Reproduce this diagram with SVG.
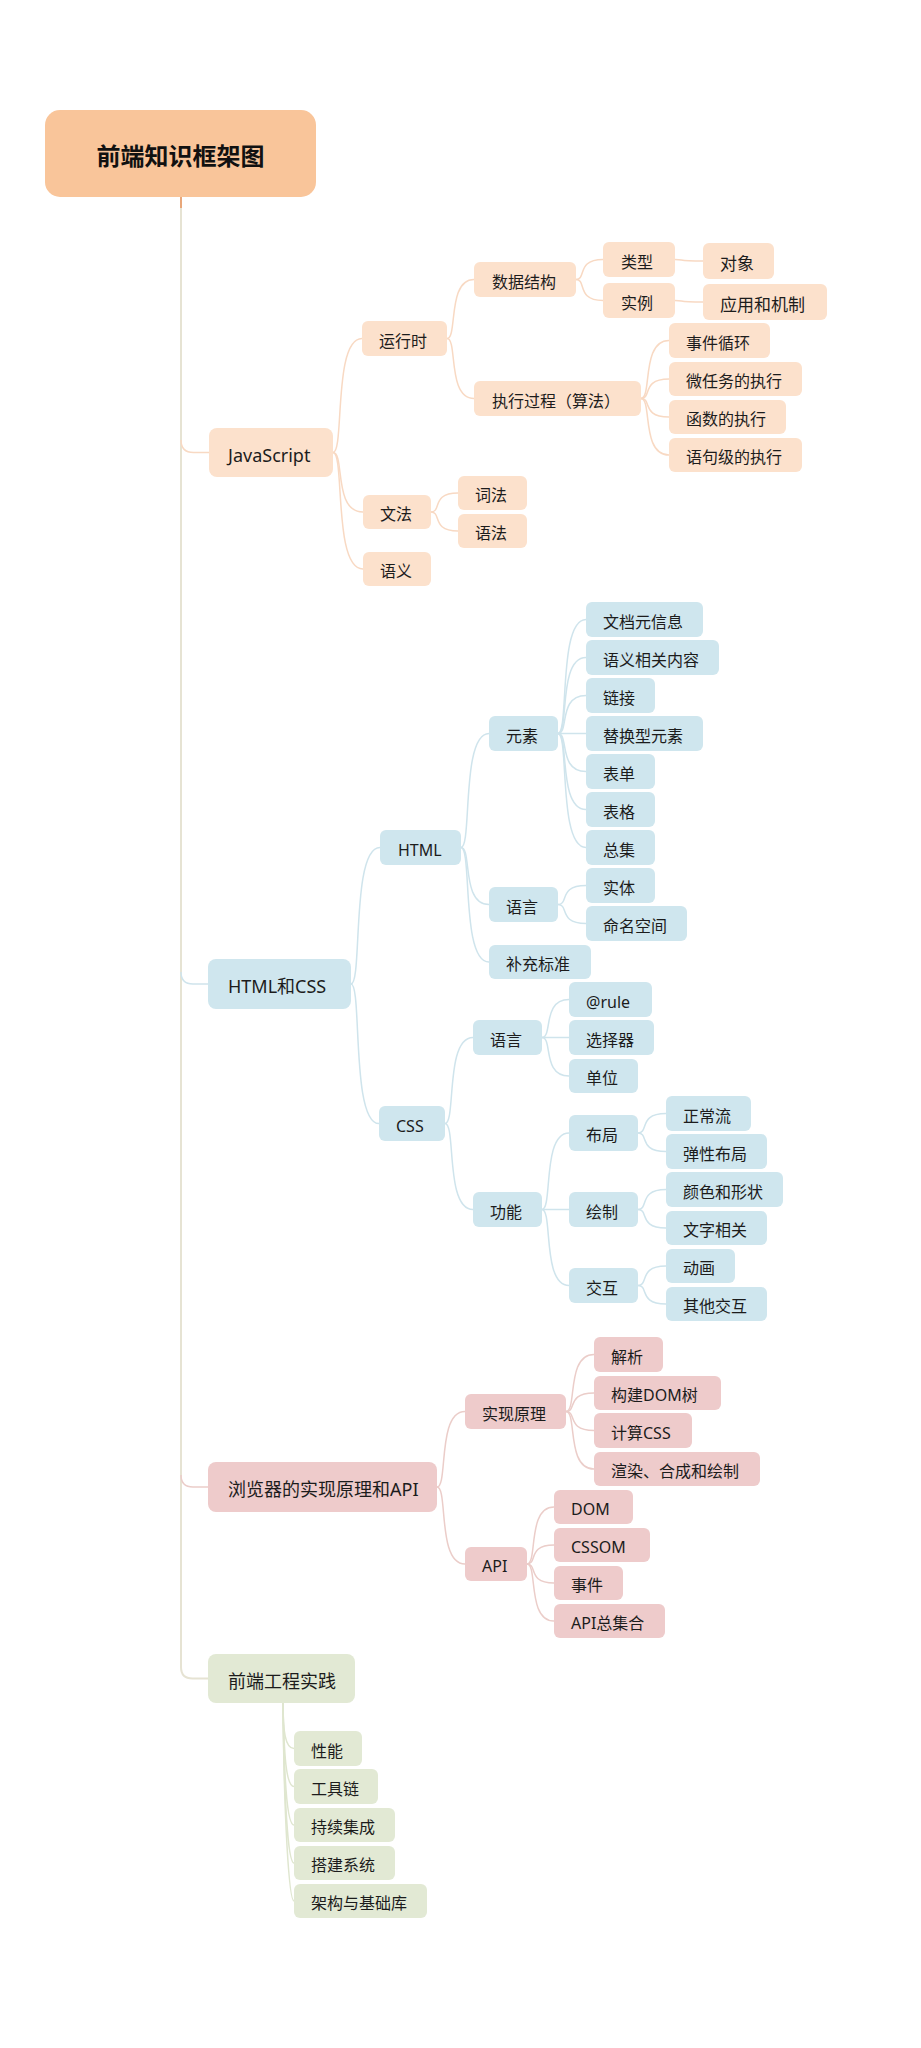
<svg xmlns="http://www.w3.org/2000/svg" width="921" height="2048" viewBox="0 0 921 2048">
<style>
text{font-family:"Noto Sans","Noto Sans CJK SC",sans-serif;font-size:16px;fill:#1c1c1c;dominant-baseline:central}
.l1 text{font-size:18px}
.js rect{fill:#FCE1CC}
.hc rect{fill:#CFE6EE}
.br rect{fill:#EECBCB}
.en rect{fill:#E2E9D4}
.c{fill:none;stroke-width:1.5}
.cjs{stroke:#F8D9C3}
.chc{stroke:#CFE4EC}
.cbr{stroke:#EBCDC9}
.cen{stroke:#DFE6CF}
</style>
<rect width="921" height="2048" fill="#ffffff"/>
<g id="connectors">
<path d="M181 197 V1667 Q181 1678.5 192.5 1678.5 H208" fill="none" stroke="#E6E3D3" stroke-width="2"/>
<path d="M181 197 V208" fill="none" stroke="#E8A77A" stroke-width="2"/>
<path class="c cjs" d="M181 440 Q181 452.5 193.5 452.5 H209"/>
<path class="c chc" d="M181 972 Q181 984 193 984 H208"/>
<path class="c cbr" d="M181 1475 Q181 1487 193 1487 H208"/>
<!-- JS -->
<path class="c cjs" d="M333 452.5 C344.6 452.5 333 338.5 362 338.5"/>
<path class="c cjs" d="M333 452.5 C345 452.5 333 512 363 512"/>
<path class="c cjs" d="M333 452.5 C345 452.5 333 569 363 569"/>
<path class="c cjs" d="M447 338.5 C457.8 338.5 447 279.5 474 279.5"/>
<path class="c cjs" d="M447 338.5 C457.8 338.5 447 398.5 474 398.5"/>
<path class="c cjs" d="M576 279.5 C586.8 279.5 576 259.5 603 259.5"/>
<path class="c cjs" d="M576 279.5 C586.8 279.5 576 300.5 603 300.5"/>
<path class="c cjs" d="M675 259.5 C686 259.5 675 261 703 261"/>
<path class="c cjs" d="M675 300.5 C686 300.5 675 302 703 302"/>
<path class="c cjs" d="M641 398.5 C652.2 398.5 641 340.5 669 340.5"/>
<path class="c cjs" d="M641 398.5 C652.2 398.5 641 379 669 379"/>
<path class="c cjs" d="M641 398.5 C652.2 398.5 641 417 669 417"/>
<path class="c cjs" d="M641 398.5 C652.2 398.5 641 455 669 455"/>
<path class="c cjs" d="M431 512 C441.8 512 431 493 458 493"/>
<path class="c cjs" d="M431 512 C441.8 512 431 531 458 531"/>
<!-- HTML & CSS -->
<path class="c chc" d="M351 984 C362.6 984 351 847.5 380 847.5"/>
<path class="c chc" d="M351 984 C362.2 984 351 1123.5 379 1123.5"/>
<path class="c chc" d="M461 847.5 C472.2 847.5 461 733.5 489 733.5"/>
<path class="c chc" d="M461 847.5 C472.2 847.5 461 904.5 489 904.5"/>
<path class="c chc" d="M461 847.5 C472.2 847.5 461 962 489 962"/>
<path class="c chc" d="M558 733.5 C569.2 733.5 558 619.5 586 619.5"/>
<path class="c chc" d="M558 733.5 C569.2 733.5 558 657.5 586 657.5"/>
<path class="c chc" d="M558 733.5 C569.2 733.5 558 695.5 586 695.5"/>
<path class="c chc" d="M558 733.5 H586"/>
<path class="c chc" d="M558 733.5 C569.2 733.5 558 771.5 586 771.5"/>
<path class="c chc" d="M558 733.5 C569.2 733.5 558 809.5 586 809.5"/>
<path class="c chc" d="M558 733.5 C569.2 733.5 558 847.5 586 847.5"/>
<path class="c chc" d="M558 904.5 C569.2 904.5 558 885.5 586 885.5"/>
<path class="c chc" d="M558 904.5 C569.2 904.5 558 923.5 586 923.5"/>
<path class="c chc" d="M445 1123.5 C456.2 1123.5 445 1037.5 473 1037.5"/>
<path class="c chc" d="M445 1123.5 C456.2 1123.5 445 1209.5 473 1209.5"/>
<path class="c chc" d="M542 1037.5 C552.8 1037.5 542 999.5 569 999.5"/>
<path class="c chc" d="M542 1037.5 H569"/>
<path class="c chc" d="M542 1037.5 C552.8 1037.5 542 1076 569 1076"/>
<path class="c chc" d="M542 1209.5 C552.8 1209.5 542 1133 569 1133"/>
<path class="c chc" d="M542 1209.5 H569"/>
<path class="c chc" d="M542 1209.5 C552.8 1209.5 542 1285.5 569 1285.5"/>
<path class="c chc" d="M638 1133 C649.2 1133 638 1113.5 666 1113.5"/>
<path class="c chc" d="M638 1133 C649.2 1133 638 1151.5 666 1151.5"/>
<path class="c chc" d="M638 1209.5 C649.2 1209.5 638 1189.5 666 1189.5"/>
<path class="c chc" d="M638 1209.5 C649.2 1209.5 638 1228 666 1228"/>
<path class="c chc" d="M638 1285.5 C649.2 1285.5 638 1266 666 1266"/>
<path class="c chc" d="M638 1285.5 C649.2 1285.5 638 1304 666 1304"/>
<!-- Browser -->
<path class="c cbr" d="M437 1487 C448.2 1487 437 1411.5 465 1411.5"/>
<path class="c cbr" d="M437 1487 C448.2 1487 437 1564 465 1564"/>
<path class="c cbr" d="M566 1411.5 C577.2 1411.5 566 1354.5 594 1354.5"/>
<path class="c cbr" d="M566 1411.5 C577.2 1411.5 566 1393 594 1393"/>
<path class="c cbr" d="M566 1411.5 C577.2 1411.5 566 1430.5 594 1430.5"/>
<path class="c cbr" d="M566 1411.5 C577.2 1411.5 566 1469 594 1469"/>
<path class="c cbr" d="M527 1564 C537.8 1564 527 1507 554 1507"/>
<path class="c cbr" d="M527 1564 C537.8 1564 527 1545 554 1545"/>
<path class="c cbr" d="M527 1564 C537.8 1564 527 1583 554 1583"/>
<path class="c cbr" d="M527 1564 C537.8 1564 527 1621 554 1621"/>
<!-- Engineering -->
<path class="c cen" d="M283 1703 C283 1730 285 1748.5 294 1748.5"/>
<path class="c cen" d="M283 1703 C284 1755 286 1786.5 294 1786.5"/>
<path class="c cen" d="M283 1703 C284 1780 287 1825 294 1825"/>
<path class="c cen" d="M283 1703 C284 1800 288 1863 294 1863"/>
<path class="c cen" d="M283 1703 C284 1820 289 1901 294 1901"/>
</g>
<g id="root"><rect x="45" y="110" width="271" height="87" rx="15" fill="#F9C59A"/><text x="180.5" y="155" text-anchor="middle" style="font-size:24px;font-weight:bold;fill:#111">前端知识框架图</text></g>
<!-- JavaScript branch -->
<g id="n-js" class="js l1"><rect x="209" y="428" width="124" height="49" rx="8"/><text x="228" y="455">JavaScript</text></g>
<g id="n-runtime" class="js"><rect x="362" y="321" width="85" height="35" rx="6"/><text x="379" y="340.5">运行时</text></g>
<g id="n-datastruct" class="js"><rect x="474" y="262" width="102" height="35" rx="6"/><text x="492" y="281.5">数据结构</text></g>
<g id="n-exec" class="js"><rect x="474" y="381" width="167" height="35" rx="6"/><text x="492" y="400.5">执行过程（算法）</text></g>
<g id="n-type" class="js"><rect x="603" y="242" width="72" height="35" rx="6"/><text x="621" y="261.5">类型</text></g>
<g id="n-instance" class="js"><rect x="603" y="283" width="72" height="35" rx="6"/><text x="621" y="302.5">实例</text></g>
<g id="n-object" class="js"><rect x="703" y="243" width="71" height="36" rx="6"/><text x="720" y="263" style="font-size:17px">对象</text></g>
<g id="n-apply" class="js"><rect x="703" y="284" width="124" height="36" rx="6"/><text x="720" y="304" style="font-size:17px">应用和机制</text></g>
<g id="n-eventloop" class="js"><rect x="669" y="323" width="101" height="35" rx="6"/><text x="686" y="342.5">事件循环</text></g>
<g id="n-micro" class="js"><rect x="669" y="362" width="133" height="34" rx="6"/><text x="686" y="381">微任务的执行</text></g>
<g id="n-func" class="js"><rect x="669" y="400" width="117" height="34" rx="6"/><text x="686" y="419">函数的执行</text></g>
<g id="n-stmt" class="js"><rect x="669" y="438" width="133" height="34" rx="6"/><text x="686" y="457">语句级的执行</text></g>
<g id="n-grammar" class="js"><rect x="363" y="495" width="68" height="34" rx="6"/><text x="380" y="514">文法</text></g>
<g id="n-lexical" class="js"><rect x="458" y="476" width="69" height="34" rx="6"/><text x="475" y="495">词法</text></g>
<g id="n-syntax" class="js"><rect x="458" y="514" width="69" height="34" rx="6"/><text x="475" y="533">语法</text></g>
<g id="n-semantic" class="js"><rect x="363" y="552" width="68" height="34" rx="6"/><text x="380" y="571">语义</text></g>
<!-- HTML & CSS branch -->
<g id="n-htmlcss" class="hc l1"><rect x="208" y="959" width="143" height="50" rx="8"/><text x="228" y="986">HTML和CSS</text></g>
<g id="n-html" class="hc"><rect x="380" y="830" width="81" height="35" rx="6"/><text x="398" y="849.5">HTML</text></g>
<g id="n-element" class="hc"><rect x="489" y="716" width="69" height="35" rx="6"/><text x="506" y="735.5">元素</text></g>
<g id="n-docmeta" class="hc"><rect x="586" y="602" width="117" height="35" rx="6"/><text x="603" y="621.5">文档元信息</text></g>
<g id="n-semcontent" class="hc"><rect x="586" y="640" width="133" height="35" rx="6"/><text x="603" y="659.5">语义相关内容</text></g>
<g id="n-link" class="hc"><rect x="586" y="678" width="69" height="35" rx="6"/><text x="603" y="697.5">链接</text></g>
<g id="n-replaced" class="hc"><rect x="586" y="716" width="117" height="35" rx="6"/><text x="603" y="735.5">替换型元素</text></g>
<g id="n-form" class="hc"><rect x="586" y="754" width="69" height="35" rx="6"/><text x="603" y="773.5">表单</text></g>
<g id="n-table" class="hc"><rect x="586" y="792" width="69" height="35" rx="6"/><text x="603" y="811.5">表格</text></g>
<g id="n-all" class="hc"><rect x="586" y="830" width="69" height="35" rx="6"/><text x="603" y="849.5">总集</text></g>
<g id="n-hlang" class="hc"><rect x="489" y="887" width="69" height="35" rx="6"/><text x="506" y="906.5">语言</text></g>
<g id="n-entity" class="hc"><rect x="586" y="868" width="69" height="35" rx="6"/><text x="603" y="887.5">实体</text></g>
<g id="n-namespace" class="hc"><rect x="586" y="906" width="101" height="35" rx="6"/><text x="603" y="925.5">命名空间</text></g>
<g id="n-supp" class="hc"><rect x="489" y="945" width="102" height="34" rx="6"/><text x="506" y="964">补充标准</text></g>
<g id="n-css" class="hc"><rect x="379" y="1106" width="66" height="35" rx="6"/><text x="396" y="1125.5">CSS</text></g>
<g id="n-clang" class="hc"><rect x="473" y="1020" width="69" height="35" rx="6"/><text x="490" y="1039.5">语言</text></g>
<g id="n-atrule" class="hc"><rect x="569" y="982" width="83" height="35" rx="6"/><text x="586" y="1001.5">@rule</text></g>
<g id="n-selector" class="hc"><rect x="569" y="1020" width="85" height="35" rx="6"/><text x="586" y="1039.5">选择器</text></g>
<g id="n-unit" class="hc"><rect x="569" y="1059" width="69" height="34" rx="6"/><text x="586" y="1078">单位</text></g>
<g id="n-feature" class="hc"><rect x="473" y="1192" width="69" height="35" rx="6"/><text x="490" y="1211.5">功能</text></g>
<g id="n-layout" class="hc"><rect x="569" y="1115" width="69" height="36" rx="6"/><text x="586" y="1135">布局</text></g>
<g id="n-draw" class="hc"><rect x="569" y="1192" width="69" height="35" rx="6"/><text x="586" y="1211.5">绘制</text></g>
<g id="n-interact" class="hc"><rect x="569" y="1268" width="69" height="35" rx="6"/><text x="586" y="1287.5">交互</text></g>
<g id="n-normal" class="hc"><rect x="666" y="1096" width="85" height="35" rx="6"/><text x="683" y="1115.5">正常流</text></g>
<g id="n-flex" class="hc"><rect x="666" y="1134" width="101" height="35" rx="6"/><text x="683" y="1153.5">弹性布局</text></g>
<g id="n-color" class="hc"><rect x="666" y="1172" width="117" height="35" rx="6"/><text x="683" y="1191.5">颜色和形状</text></g>
<g id="n-textrel" class="hc"><rect x="666" y="1211" width="101" height="34" rx="6"/><text x="683" y="1230">文字相关</text></g>
<g id="n-anim" class="hc"><rect x="666" y="1249" width="69" height="34" rx="6"/><text x="683" y="1268">动画</text></g>
<g id="n-other" class="hc"><rect x="666" y="1287" width="101" height="34" rx="6"/><text x="683" y="1306">其他交互</text></g>
<!-- Browser branch -->
<g id="n-browser" class="br l1"><rect x="208" y="1462" width="229" height="50" rx="8"/><text x="228" y="1489">浏览器的实现原理和API</text></g>
<g id="n-impl" class="br"><rect x="465" y="1394" width="101" height="35" rx="6"/><text x="482" y="1413.5">实现原理</text></g>
<g id="n-parse" class="br"><rect x="594" y="1337" width="69" height="35" rx="6"/><text x="611" y="1356.5">解析</text></g>
<g id="n-builddom" class="br"><rect x="594" y="1376" width="127" height="34" rx="6"/><text x="611" y="1395">构建DOM树</text></g>
<g id="n-calccss" class="br"><rect x="594" y="1413" width="98" height="35" rx="6"/><text x="611" y="1432.5">计算CSS</text></g>
<g id="n-render" class="br"><rect x="594" y="1452" width="166" height="34" rx="6"/><text x="611" y="1471">渲染、合成和绘制</text></g>
<g id="n-api" class="br"><rect x="465" y="1547" width="62" height="34" rx="6"/><text x="482" y="1566">API</text></g>
<g id="n-dom" class="br"><rect x="554" y="1490" width="79" height="34" rx="6"/><text x="571" y="1509">DOM</text></g>
<g id="n-cssom" class="br"><rect x="554" y="1528" width="96" height="34" rx="6"/><text x="571" y="1547">CSSOM</text></g>
<g id="n-event" class="br"><rect x="554" y="1566" width="69" height="34" rx="6"/><text x="571" y="1585">事件</text></g>
<g id="n-apiall" class="br"><rect x="554" y="1604" width="111" height="34" rx="6"/><text x="571" y="1623">API总集合</text></g>
<!-- Engineering branch -->
<g id="n-eng" class="en l1"><rect x="208" y="1654" width="147" height="49" rx="8"/><text x="228" y="1680.5">前端工程实践</text></g>
<g id="n-perf" class="en"><rect x="294" y="1731" width="68" height="35" rx="6"/><text x="311" y="1750.5">性能</text></g>
<g id="n-toolchain" class="en"><rect x="294" y="1769" width="84" height="35" rx="6"/><text x="311" y="1788.5">工具链</text></g>
<g id="n-ci" class="en"><rect x="294" y="1808" width="101" height="34" rx="6"/><text x="311" y="1827">持续集成</text></g>
<g id="n-build" class="en"><rect x="294" y="1846" width="101" height="34" rx="6"/><text x="311" y="1865">搭建系统</text></g>
<g id="n-arch" class="en"><rect x="294" y="1884" width="133" height="34" rx="6"/><text x="311" y="1903">架构与基础库</text></g>
</svg>
